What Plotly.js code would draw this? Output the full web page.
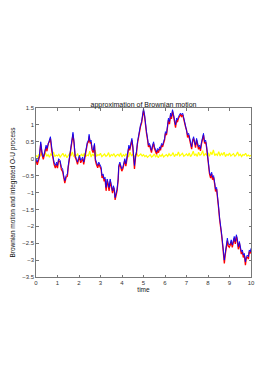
<!DOCTYPE html>
<html>
<head>
<meta charset="utf-8">
<script src="https://cdn.plot.ly/plotly-3.0.1.min.js"></script>
<style>html,body{margin:0;padding:0;background:#fff;}#chart{width:277px;height:392px;}</style>
</head>
<body>
<div id="chart"></div>
<script>
// time grid of the Brownian path
var timeBM = [
 0,0.06,0.16,0.22,0.28,0.34,0.4,0.47,0.51,0.57,
 0.62,0.67,0.73,0.78,0.84,0.9,0.96,1.0,1.05,1.12,
 1.18,1.24,1.3,1.34,1.4,1.46,1.5,1.55,1.62,1.68,
 1.72,1.77,1.82,1.88,1.93,1.97,2.02,2.08,2.13,2.17,
 2.22,2.28,2.34,2.39,2.44,2.47,2.52,2.56,2.61,2.66,
 2.72,2.76,2.81,2.87,2.92,2.98,3.03,3.07,3.12,3.17,
 3.21,3.26,3.31,3.35,3.4,3.45,3.51,3.56,3.6,3.65,
 3.68,3.73,3.77,3.82,3.85,3.9,3.94,3.99,4.04,4.08,
 4.13,4.18,4.22,4.27,4.32,4.36,4.41,4.46,4.5,4.53,
 4.58,4.63,4.67,4.72,4.77,4.81,4.86,4.91,4.95,5.0,
 5.05,5.09,5.14,5.19,5.23,5.28,5.33,5.37,5.42,5.47,
 5.51,5.56,5.61,5.65,5.7,5.75,5.79,5.84,5.89,5.93,
 5.98,6.02,6.07,6.12,6.16,6.21,6.26,6.3,6.35,6.4,
 6.44,6.49,6.54,6.58,6.63,6.68,6.72,6.77,6.82,6.86,
 6.91,6.96,7.0,7.05,7.1,7.14,7.19,7.24,7.28,7.33,
 7.38,7.42,7.47,7.51,7.56,7.61,7.65,7.7,7.75,7.79,
 7.84,7.89,7.93,7.98,8.03,8.07,8.12,8.17,8.21,8.26,
 8.31,8.35,8.4,8.45,8.49,8.54,8.59,8.63,8.68,8.73,
 8.76,8.8,8.85,8.9,8.94,8.99,9.04,9.08,9.13,9.18,
 9.22,9.27,9.32,9.36,9.41,9.46,9.5,9.55,9.6,9.64,
 9.69,9.74,9.78,9.83,9.88,9.92,9.97,10
];

// Brownian motion (blue)
var brownian = [
 0.0,-0.1,0.1,0.5,0.2,0.05,0.2,0.4,0.3,0.5,
 0.55,0.65,0.3,0.1,-0.1,-0.2,-0.1,-0.2,0.0,-0.05,
 -0.25,-0.3,-0.55,-0.65,-0.5,-0.45,-0.2,0.0,0.3,0.6,
 0.78,0.5,0.1,0.0,-0.1,0.0,0.1,-0.05,0.0,0.05,
 -0.1,0.15,0.3,0.5,0.55,0.72,0.5,0.55,0.3,0.25,
 0.45,0.0,-0.1,-0.2,-0.1,-0.2,-0.25,-0.5,-0.45,-0.6,
 -0.55,-0.85,-0.6,-0.7,-0.85,-0.6,-0.8,-0.95,-0.8,-0.9,
 -1.15,-1.05,-0.9,-0.6,-0.2,-0.1,-0.2,-0.3,-0.25,-0.1,
 0.0,-0.15,0.0,0.3,0.4,0.3,0.5,0.6,0.4,0.1,
 -0.2,0.1,0.2,0.5,0.7,0.9,1.0,1.1,1.3,1.48,
 1.3,1.0,0.8,0.6,0.4,0.45,0.3,0.25,0.4,0.5,
 0.35,0.25,0.2,0.3,0.25,0.35,0.3,0.45,0.4,0.5,
 0.6,0.8,0.75,1.0,1.2,1.1,1.35,1.25,1.45,1.3,
 1.15,1.0,1.2,1.15,1.25,1.3,1.35,1.3,1.35,1.25,
 1.1,1.0,0.9,0.7,0.75,0.65,0.5,0.35,0.55,0.65,
 0.5,0.4,0.6,0.45,0.35,0.4,0.3,0.5,0.6,0.75,
 0.5,0.55,0.4,0.1,-0.15,-0.4,-0.5,-0.4,-0.55,-0.5,
 -0.7,-0.9,-0.85,-1.1,-1.4,-1.75,-1.95,-2.2,-2.5,-2.8,
 -3.0,-2.8,-2.55,-2.35,-2.5,-2.55,-2.5,-2.4,-2.55,-2.45,
 -2.3,-2.45,-2.25,-2.35,-2.6,-2.45,-2.6,-2.75,-2.7,-2.85,
 -2.8,-3.05,-2.9,-2.85,-2.9,-2.7,-2.75,-2.65
];

// integrated O-U process (red)
var integratedOU = [
 -0.05,-0.18,0.05,0.45,0.12,-0.02,0.15,0.35,0.22,0.45,
 0.5,0.6,0.25,0.03,-0.17,-0.28,-0.15,-0.28,-0.05,-0.1,
 -0.32,-0.38,-0.62,-0.72,-0.55,-0.52,-0.25,-0.05,0.25,0.55,
 0.72,0.45,0.05,-0.05,-0.17,-0.05,0.05,-0.12,-0.05,0.0,
 -0.17,0.1,0.25,0.45,0.5,0.66,0.45,0.5,0.25,0.18,
 0.4,-0.05,-0.17,-0.27,-0.15,-0.27,-0.32,-0.57,-0.5,-0.67,
 -0.6,-0.95,-0.65,-0.77,-0.95,-0.65,-0.88,-1.02,-0.85,-0.98,
 -1.22,-1.1,-0.95,-0.65,-0.25,-0.15,-0.27,-0.37,-0.3,-0.15,
 -0.05,-0.22,-0.05,0.25,0.35,0.25,0.45,0.55,0.35,0.05,
 -0.3,0.05,0.15,0.45,0.65,0.85,0.95,1.05,1.25,1.42,
 1.25,0.95,0.75,0.55,0.35,0.4,0.25,0.18,0.35,0.45,
 0.3,0.18,0.13,0.25,0.18,0.3,0.25,0.4,0.35,0.45,
 0.55,0.75,0.7,0.95,1.15,1.02,1.3,1.18,1.4,1.25,
 1.08,0.92,1.15,1.08,1.2,1.25,1.3,1.25,1.3,1.2,
 1.02,0.93,0.85,0.63,0.7,0.58,0.45,0.28,0.5,0.6,
 0.45,0.33,0.55,0.4,0.28,0.35,0.23,0.45,0.55,0.7,
 0.45,0.5,0.35,0.05,-0.2,-0.45,-0.57,-0.45,-0.62,-0.55,
 -0.75,-0.97,-0.9,-1.15,-1.45,-1.8,-2.0,-2.25,-2.55,-2.88,
 -3.1,-2.85,-2.6,-2.42,-2.58,-2.62,-2.55,-2.45,-2.62,-2.5,
 -2.35,-2.52,-2.3,-2.42,-2.68,-2.5,-2.65,-2.82,-2.75,-2.92,
 -2.85,-3.15,-2.95,-2.9,-2.97,-2.75,-2.8,-2.7
];

// O-U process itself (yellow), sampled evenly from t=0 to t=10
var ouStart = 0, ouStep = 0.0625;
var ouProcess = [
 0.1,0.05,0.12,0.08,0.15,0.06,0.1,0.18,0.07,0.12,0.04,0.14,0.09,0.2,0.06,0.11,0.08,
 0.13,0.05,0.1,0.16,0.07,0.12,0.03,0.1,0.15,0.08,0.2,0.06,0.12,0.09,0.14,0.05,
 0.1,0.13,0.07,0.17,0.06,0.11,0.09,0.22,0.05,0.14,0.08,0.25,0.07,0.12,0.1,0.16,
 0.06,0.11,0.14,0.07,0.1,0.18,0.05,0.12,0.09,0.15,0.06,0.1,0.13,0.08,0.17,0.05,
 0.12,0.08,0.14,0.1,0.06,0.19,0.09,0.13,0.05,0.11,0.16,0.07,0.1,0.14,0.08,0.12,
 0.06,0.1,0.04,0.09,0.12,0.05,0.08,0.14,0.06,0.1,0.03,0.11,0.07,0.13,0.05,0.09,
 0.12,0.07,0.15,0.09,0.11,0.18,0.06,0.13,0.1,0.2,0.08,0.12,0.16,0.07,0.1,0.14,
 0.08,0.17,0.06,0.12,0.22,0.09,0.14,0.07,0.19,0.1,0.13,0.24,0.08,0.15,0.11,0.18,
 0.07,0.2,0.12,0.26,0.09,0.14,0.1,0.21,0.08,0.16,0.11,0.19,0.06,0.13,0.1,0.17,
 0.08,0.12,0.15,0.07,0.11,0.2,0.09,0.13,0.06,0.12,0.1,0.16,0.08,0.11,0.07,0.1
];

var titleText = 'approximation of Brownian motion';
var xTitle = 'time';
var yTitle = 'Brownian motion and integrated O-U process';

var font = 'Liberation Sans, Arial, sans-serif';

var traces = [
  {y: ouProcess, x0: ouStart, dx: ouStep, type: 'scatter', mode: 'lines',
   line: {color: '#ffff00', width: 1.2}, hoverinfo: 'skip'},
  {x: timeBM, y: integratedOU, type: 'scatter', mode: 'lines',
   line: {color: '#ff0000', width: 1.3}, hoverinfo: 'skip'},
  {x: timeBM, y: brownian, type: 'scatter', mode: 'lines',
   line: {color: '#0000ff', width: 0.9}, hoverinfo: 'skip'}
];

var axisCommon = {
  showline: true, mirror: 'ticks', linecolor: '#555', linewidth: 0.8,
  ticks: 'inside', ticklen: 2.5, tickcolor: '#555', tickwidth: 0.8,
  showgrid: false, zeroline: false,
  tickfont: {family: font, size: 6, color: '#333'}
};

var layout = {
  width: 277, height: 392,
  margin: {l: 36, r: 26, t: 108, b: 115},
  paper_bgcolor: '#fff', plot_bgcolor: '#fff',
  showlegend: false,
  title: {text: titleText, font: {family: font, size: 7, color: '#111'},
          xref: 'paper', x: 0.5, xanchor: 'center',
          yref: 'paper', y: 1, yanchor: 'bottom', pad: {b: 1}},
  xaxis: Object.assign({}, axisCommon, {
    range: [0, 10], dtick: 1, tick0: 0,
    title: {text: xTitle, font: {family: font, size: 6.5, color: '#111'}, standoff: 1}
  }),
  yaxis: Object.assign({}, axisCommon, {
    range: [-3.5, 1.5], dtick: 0.5, tick0: 0,
    title: {text: yTitle, font: {family: font, size: 6.5, color: '#111'}, standoff: 5}
  })
};

Plotly.newPlot('chart', traces, layout, {staticPlot: true, displayModeBar: false});
</script>
</body>
</html>
